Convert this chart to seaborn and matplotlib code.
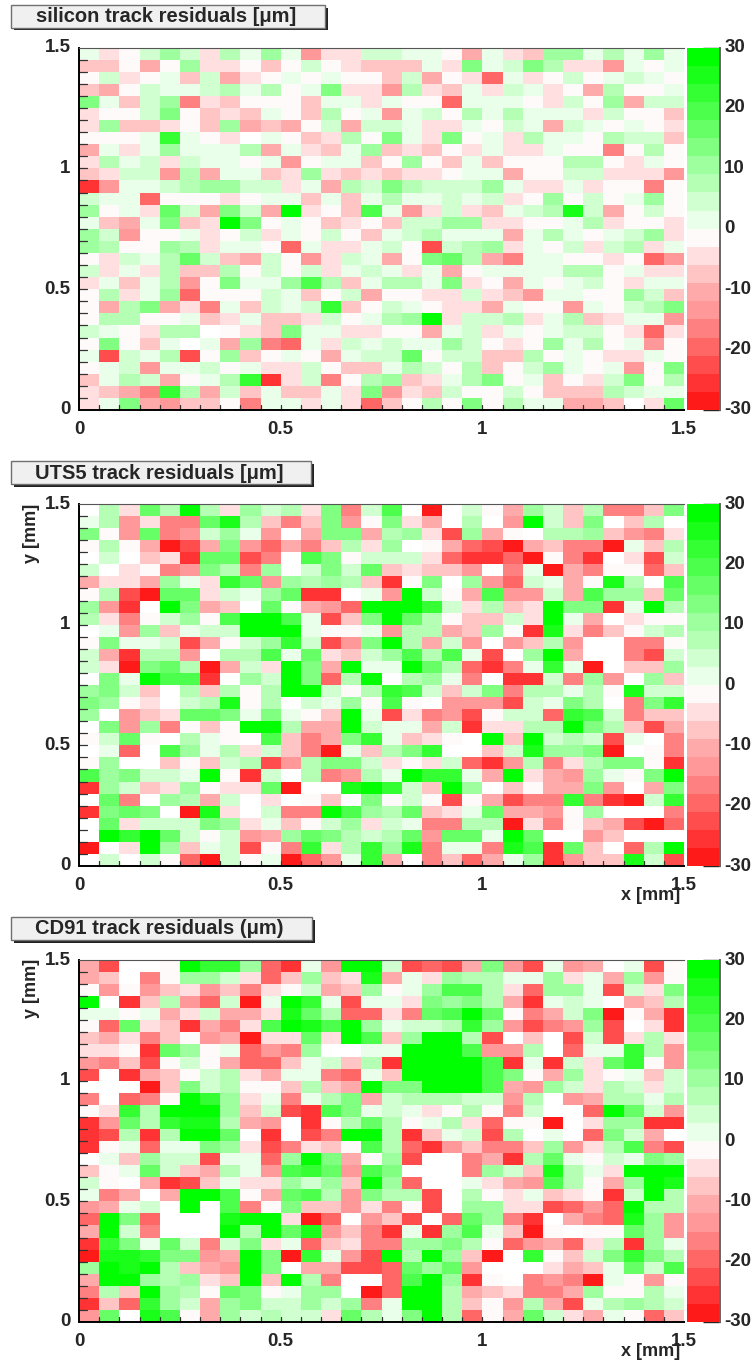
import numpy as np
import matplotlib
matplotlib.use("Agg")
import matplotlib.pyplot as plt
from matplotlib.colors import ListedColormap
from matplotlib.patches import Rectangle
from matplotlib.transforms import ScaledTranslation
import seaborn as sns

# cells that ROOT leaves white (below the -30 limit)
W = -40

# values in um, top row is y = 1.5, first column is x = 0
silicon_rows = [
    [1,-4,-1,4,10,4,-4,7,1,10,1,-13,-4,-4,4,4,1,1,-1,-10,1,-4,-7,10,10,1,7,1,10,1],
    [-7,-7,-1,-10,-1,10,-4,-4,-1,-7,-1,4,-1,-4,-7,-7,-7,1,-4,13,1,4,13,7,-4,-4,-13,1,-1,1],
    [-1,4,-4,-1,1,-7,4,-10,-4,-1,1,-1,1,-1,-1,-7,4,-10,-1,-4,-19,1,-4,-1,4,-1,1,4,1,-1],
    [-7,-10,-1,4,1,1,4,7,1,7,-1,1,13,-4,-4,-13,7,-4,-7,1,-4,4,1,-4,-1,-10,7,-1,-1,1],
    [13,1,-7,4,10,-16,-4,-7,-1,-1,-1,-7,1,1,-4,1,-1,-1,-19,1,1,1,-1,-4,4,-1,10,-10,4,4],
    [-4,-1,-1,4,13,-1,-7,-4,-7,1,-1,-7,7,-1,1,-13,1,4,-1,7,1,7,1,1,1,-4,4,-1,-1,-7],
    [-4,10,-7,-7,-4,-1,-7,10,-10,-7,-10,-1,4,-10,4,4,1,-4,-4,1,-1,4,1,-10,4,1,-1,1,-1,-4],
    [-1,-1,-1,1,22,1,-1,-4,W,1,-1,-7,-4,7,-1,13,1,-4,13,-1,1,-4,7,1,1,-1,7,4,4,-7],
    [-10,1,-4,1,10,1,1,1,7,-10,1,-4,-7,1,10,-7,-4,-7,-1,-4,1,-4,-4,1,-1,-1,-16,-1,7,-1],
    [-4,7,1,4,-4,4,1,1,-1,1,-13,-1,1,1,-7,-1,10,-1,-7,1,-7,-1,-1,-1,7,7,-1,-4,1,-1],
    [-7,-4,4,4,-13,7,-10,1,1,-7,-4,10,-4,-7,-4,-7,-4,-4,-1,1,1,-10,-1,-1,4,4,-4,-4,-4,-13],
    [-25,-13,1,1,4,7,10,10,4,4,-4,1,-10,7,4,13,7,4,4,4,10,1,-4,-4,1,-4,-1,-1,-16,-1],
    [4,1,1,-19,-1,-1,-1,-4,-1,1,1,-7,1,-7,1,7,1,1,4,1,4,-4,-1,10,-1,4,-1,1,10,-1],
    [10,-1,1,-4,16,4,-10,13,4,-10,28,-4,-1,-7,19,1,-13,-4,4,-4,-7,1,4,7,25,4,-10,-1,4,-1],
    [1,-7,-10,1,13,-7,-4,28,13,-1,1,-1,-7,-4,-1,-7,4,4,10,10,-4,-4,-1,-1,1,7,-4,-1,-1,-4],
    [10,4,-13,-1,-1,1,-4,-1,4,-4,1,-1,4,-1,-7,1,4,7,1,1,1,-10,1,7,1,-1,1,4,10,-4],
    [10,7,-1,-1,10,7,-4,1,1,-1,-19,1,-4,-4,1,4,-1,-22,4,7,10,-4,1,-1,4,-4,4,7,-4,1],
    [-1,-4,4,1,7,16,4,-7,-10,4,-1,-13,-4,4,1,-10,-1,13,16,7,-10,-16,1,1,-1,-1,-4,-1,-19,-13],
    [4,-4,1,-4,7,-7,-7,7,-1,4,-1,4,-4,1,4,1,-4,1,-10,-1,1,1,1,1,7,7,-1,1,-4,-4],
    [-4,1,-7,1,7,-13,-1,13,1,1,10,19,7,-7,1,7,7,1,13,-4,-1,-10,1,-1,1,4,-1,-4,1,1],
    [-1,7,-4,1,10,-19,-1,-1,-1,4,1,-7,-1,4,-10,-1,-1,-4,-4,4,-4,-7,-13,1,1,-1,-1,10,4,-7],
    [-1,-10,7,13,-10,-4,-16,1,-7,4,1,4,22,-7,-1,4,1,-1,-4,-4,-10,1,-1,-1,-13,1,-1,4,7,13],
    [-1,7,7,-1,-1,1,-7,-4,1,-7,-7,-4,4,-1,1,7,10,28,-4,4,4,7,-4,1,7,-7,-4,1,1,-13],
    [4,1,-1,-4,7,7,W,-1,-4,-7,13,1,1,-4,-4,-1,-1,-10,1,4,-4,1,-1,1,4,4,-1,-4,-19,-4],
    [-1,13,-1,-7,1,W,1,-10,10,-16,-19,1,-4,4,1,4,1,1,10,4,-1,-4,-1,10,1,7,-1,1,-13,-1],
    [1,-22,4,1,7,-22,-1,10,-7,-1,1,-1,-10,1,4,4,16,-1,4,4,-7,-7,7,-1,1,-1,-4,-4,1,-1],
    [-1,1,4,-13,1,1,4,-1,1,-4,-4,4,-1,-7,-7,1,7,4,-1,7,-7,-1,4,10,1,-1,1,-13,-1,13],
    [-7,1,7,4,-10,-1,1,7,22,-25,-4,4,-16,-1,7,10,-7,-4,1,7,13,-1,1,-7,-1,-4,4,13,-1,7],
    [-4,-7,-10,-16,22,7,-10,4,-7,1,-7,-7,1,-4,13,-13,-4,-7,4,-1,-1,4,-1,-7,-7,-7,7,4,1,1],
    [-4,1,13,-10,-13,-7,-7,-1,-16,1,1,-4,1,-4,-19,-7,-1,7,-1,13,-1,7,1,1,-10,-10,-7,W,-4,16],
]

uts5_rows = [
    [W,7,-4,16,7,28,7,-4,10,4,7,-4,13,-16,4,19,W,-28,W,4,-1,-10,10,4,-7,7,-16,-16,-7,13],
    [1,7,-13,-4,-16,-16,16,25,7,-7,-16,-7,13,-13,-1,13,-4,-10,W,7,W,-13,28,4,-7,13,W,-7,7,W],
    [13,-1,-13,16,-16,-13,4,10,1,-13,W,-10,13,13,-10,7,10,-4,-22,10,-10,-1,W,7,7,10,-7,-13,-16,-4],
    [-1,7,-1,-10,-28,-22,-10,13,-13,-19,-10,-16,-7,7,-4,10,W,-1,-10,-19,-22,-28,-10,-7,-16,-16,-28,1,-7,7],
    [W,4,W,-7,-4,-25,16,16,-22,-16,W,19,13,-1,4,4,4,-4,-19,-25,-25,-19,-28,-1,-16,-25,W,-4,-22,4],
    [4,W,-4,-1,-16,-13,13,7,-16,10,W,4,13,4,16,-7,-4,-7,-7,-13,W,-16,1,-28,-10,-16,-1,-1,-19,-7],
    [-10,-4,-4,-10,10,1,-4,22,16,-13,10,7,10,7,-7,-25,-1,13,W,10,-13,-19,4,1,-10,-1,25,7,W,19],
    [-1,7,-22,-28,16,16,-4,4,1,10,16,-25,-25,W,1,-13,28,4,-1,-10,19,-13,-13,4,-10,19,10,10,-7,16],
    [10,-13,-25,W,28,13,-10,-7,W,16,-1,-10,-13,-19,28,28,28,22,4,-4,7,-7,-4,28,13,13,-25,1,28,7],
    [7,-4,-16,-1,4,10,-1,19,28,28,19,1,-22,-7,13,28,16,7,-1,-7,-7,4,-4,28,1,-10,W,-4,-1,-1],
    [W,1,-13,10,-7,1,4,4,28,28,28,1,-1,-1,1,-13,7,7,-10,-7,10,-1,-25,25,-4,-16,-7,-1,4,7],
    [-1,13,1,1,4,-22,-10,-1,4,10,22,4,-22,-13,13,28,7,-10,4,-13,W,-13,-7,7,-13,W,W,-16,-16,-1],
    [4,-10,-25,7,7,-13,W,7,7,19,1,16,-4,-7,4,10,19,7,19,1,-22,W,10,28,-10,W,W,-16,-22,4],
    [4,-4,-28,13,16,7,-28,-10,4,-4,28,13,-10,28,1,1,28,16,7,-19,-25,-16,1,22,1,-28,W,-7,-7,10],
    [W,13,1,28,19,19,-25,W,10,4,28,13,-19,7,28,W,7,10,1,-16,W,-25,-25,4,-16,10,-13,W,10,-7],
    [10,13,4,-7,W,7,-7,7,-1,7,28,28,4,-1,7,22,19,4,-7,4,13,-16,7,7,1,7,-1,25,4,4],
    [13,10,-1,-4,W,4,7,25,-1,7,W,4,1,10,-1,19,-1,W,-13,-13,-13,-22,4,1,13,7,W,-16,13,22],
    [10,W,-13,-7,-4,16,16,13,1,13,1,-1,-7,28,1,-22,-4,-16,-13,-22,-1,4,4,-19,22,19,4,-16,-7,-7],
    [W,13,-13,10,-16,-1,-7,-1,28,28,7,-10,-10,28,4,1,1,-10,4,-25,-4,-4,7,7,28,13,7,-7,-22,-10],
    [-1,4,16,-1,W,7,1,-1,W,19,-7,-16,-10,13,22,1,-7,-4,-1,W,28,-7,28,4,7,4,-22,1,W,-16],
    [W,1,-19,W,19,10,1,7,-4,4,-7,-16,-28,1,-7,7,13,22,W,W,-7,4,25,10,10,13,-28,W,-1,-16],
    [-1,10,W,W,-7,-1,-7,4,7,-22,-13,7,13,13,4,-4,-1,-4,4,-19,-25,-13,7,-16,-4,7,13,13,-1,-25],
    [19,10,13,4,4,1,28,-1,-25,4,W,7,-16,-13,7,1,28,22,22,1,-10,28,-4,-10,-13,10,1,-1,13,28],
    [-25,10,4,-7,-4,10,-1,-4,-4,16,-28,W,W,25,28,22,4,-7,28,10,W,-7,-1,-10,-10,13,-13,W,-10,13],
    [W,16,-16,W,10,7,-10,4,W,-4,W,-1,-7,W,13,-1,4,-1,-22,-1,-10,-22,-16,-16,22,-16,-25,-28,4,22],
    [-25,13,16,13,W,-28,25,-4,W,4,-16,-16,28,19,10,7,16,-7,-4,1,16,-10,-10,-13,-1,10,W,W,W,-16],
    [W,16,-4,4,4,4,13,10,-4,1,-7,-1,4,10,-4,4,1,-16,-16,7,7,-28,-4,-16,-1,-7,-10,-22,-28,-19],
    [W,28,22,28,16,4,-1,4,-13,-10,10,16,13,7,4,7,16,-13,16,16,1,28,16,W,W,-13,-7,W,W,W],
    [-28,W,-4,28,10,-7,1,4,-22,-1,-16,22,-4,7,22,10,25,-16,1,1,-16,25,19,-25,16,-7,W,-19,7,28],
    [W,4,W,4,-1,-19,-28,4,-1,1,-28,-19,-13,1,22,-10,W,-16,-7,-19,-10,1,10,-25,-13,-7,-7,25,4,-22],
]

cd91_rows = [
    [-10,-22,W,W,-1,28,22,22,10,-19,-25,1,-13,28,28,4,-22,-19,-22,-10,13,-13,-22,1,-13,-10,W,1,-22,-1],
    [-10,-7,W,-16,-1,10,10,4,-4,-19,-7,10,-7,-4,25,-10,1,-4,10,7,7,1,1,10,-4,1,-10,10,-13,-1],
    [-1,-13,-1,-13,-7,-4,-13,-7,-16,-4,-1,4,-10,-7,10,-1,1,10,19,19,7,-4,-19,10,10,1,-22,4,-4,13],
    [28,W,-25,-7,7,-13,-19,4,-28,1,28,22,1,-22,1,1,-4,13,10,13,7,-10,-25,1,4,1,W,-10,-7,7],
    [1,1,-1,1,-10,-4,4,-10,-10,-4,25,16,7,-19,-19,-4,-16,16,19,28,16,-1,-16,-10,4,13,-28,-1,-10,-25],
    [-1,-19,16,-4,-7,-25,-10,-16,-4,19,28,25,19,28,10,1,4,4,7,22,10,-13,-22,-16,-13,10,-22,W,-4,-25],
    [-7,-10,-4,-16,-7,-1,-13,-10,-28,-4,-4,16,-4,28,19,-7,10,28,28,7,-22,W,-7,W,-22,4,-22,-4,7,-4],
    [-4,-4,-1,-25,16,10,-1,1,-19,-13,-16,10,W,W,1,1,28,28,28,19,-13,-13,7,W,-19,1,1,22,7,-13],
    [-13,-16,-7,-22,-1,4,-1,-10,-19,-19,-7,1,4,-7,7,-25,28,28,28,28,19,-25,1,-25,4,-4,16,22,-1,-13],
    [-22,W,-25,-10,-7,-1,4,7,-4,-10,1,1,-16,-19,1,-7,28,28,28,28,19,13,-1,-10,10,-4,-1,1,-7,4],
    [W,W,W,-28,-7,13,4,7,-1,-1,-7,7,-7,-10,28,13,13,28,28,28,19,-10,-13,10,4,-4,7,4,-4,4],
    [-16,W,-19,-16,-1,28,22,10,-4,1,-16,1,7,13,-10,4,7,7,7,4,4,-13,7,W,-13,-10,7,7,1,7],
    [-1,-4,22,7,28,28,28,10,-7,4,-22,-25,19,13,1,4,1,-4,-1,7,-1,-16,4,W,W,-19,28,16,4,-13],
    [-25,-13,16,7,22,25,25,7,-10,-13,W,-25,-1,7,16,7,-1,1,7,-4,-19,-1,-1,-28,W,-4,10,10,-25,-25],
    [-25,-22,7,-25,7,28,28,16,W,-25,W,-22,-16,28,28,7,-25,-7,1,4,-22,7,W,1,W,-19,13,4,-10,W],
    [-25,-1,1,-19,1,1,13,10,-4,-22,-16,-4,-7,-1,19,7,-19,-25,-13,-7,-16,-16,-7,10,-13,-4,7,19,-16,-22],
    [W,1,-7,10,4,4,-22,1,1,-19,10,28,13,-10,-1,10,-22,W,W,-16,-10,-25,7,16,1,-1,4,1,13,10],
    [-7,-1,1,16,4,-7,-10,7,1,-13,19,22,16,-13,19,13,W,W,W,-16,10,4,-7,25,7,1,-4,28,28,28],
    [4,-1,W,-10,-25,-22,-7,1,-4,-4,10,4,10,-7,28,10,-19,W,W,1,-4,-10,-13,19,7,-1,-10,10,28,25],
    [1,-16,-10,W,-10,28,28,19,-1,-10,16,19,7,-13,13,7,7,-22,W,7,-1,-4,1,-7,-4,-1,-25,4,28,7],
    [-13,-10,1,4,W,28,W,19,-16,-1,13,-7,-7,-13,-4,-16,-1,-22,W,10,10,-4,-4,-22,-19,-13,-19,28,7,7],
    [-19,28,13,-19,W,W,W,25,28,28,-4,-28,-19,W,-13,-7,-22,W,-19,16,10,-16,-25,W,-10,-16,-19,25,10,-13],
    [-10,28,4,-16,W,W,W,28,7,28,16,25,-13,-7,-16,-25,1,-25,10,19,1,-7,-28,-1,W,-1,-1,16,10,-13],
    [-25,22,13,1,16,4,-16,4,13,-4,1,-19,-7,-4,-16,-16,10,10,13,7,-1,-19,-13,-10,-19,-4,7,-25,10,1],
    [-28,25,25,22,13,13,-13,-10,28,13,-28,22,1,-13,-22,28,7,28,10,-7,-28,W,22,-1,-7,4,13,22,13,7],
    [10,28,25,28,7,-7,-10,-13,28,13,W,-10,-10,-22,-22,-19,16,10,16,-13,W,W,W,-4,-10,-7,1,16,4,19],
    [-10,28,28,10,7,10,-4,-7,28,-7,28,7,-16,W,W,-19,19,28,10,-25,-1,W,-16,-13,-16,-28,1,-1,-13,-1],
    [-16,7,-7,28,10,7,-1,16,13,-1,1,10,10,W,-28,-19,28,28,7,-10,-7,-4,-16,-16,-10,10,-1,-1,7,1],
    [-25,-7,-19,22,10,4,-10,10,13,4,4,10,4,10,-16,1,28,28,7,-7,-1,-13,7,-10,-22,1,7,10,7,4],
    [-13,16,W,25,19,-1,-10,10,4,7,4,4,-4,16,7,1,13,28,7,-19,-1,-10,16,4,-4,-10,1,-1,-19,-7],
]

band_colors = [
    "#ff1a1a", "#ff3333", "#ff4d4d", "#ff6666", "#ff8080",
    "#ff9999", "#ffaaaa", "#ffc4c4", "#ffdfdf", "#fffafa",
    "#eaffea", "#d0ffd0", "#b5ffb5", "#9eff9e", "#80ff80",
    "#66ff66", "#4dff4d", "#33ff33", "#1aff1a", "#00ff00",
]
titles = ["silicon track residuals [\u03bcm]", "UTS5 track residuals [\u03bcm]", "CD91 track residuals (\u03bcm)"]
tick_values = [0, 0.5, 1, 1.5]
tick_labels = ["0", "0.5", "1", "1.5"]
long_x = [0, 0.2, 0.4, 0.5, 0.6, 0.8, 1.0, 1.2, 1.4, 1.5]
long_y = [0.1, 0.3, 0.5, 0.7, 0.9, 1.0, 1.1, 1.3, 1.5]
cbar_ticks = [-30, -20, -10, 0, 10, 20, 30]

W_PX, H_PX = 752, 1366
FONT = "Liberation Sans"


def px_rect(left, top, right, bottom):
    return [left / W_PX, 1 - bottom / H_PX, (right - left) / W_PX, (bottom - top) / H_PX]


def title_box(fig, text, left, top, right, bottom):
    # ROOT style title pad with a dark drop shadow
    x0, y0, w, h = px_rect(left, top, right, bottom)
    sx, sy = 3 / W_PX, 2.5 / H_PX
    fig.add_artist(Rectangle((x0 + sx, y0 - sy), w, h, transform=fig.transFigure,
                             facecolor="#222222", edgecolor="none"))
    fig.add_artist(Rectangle((x0, y0), w, h, transform=fig.transFigure,
                             facecolor="#f0f0f0", edgecolor="#707070", linewidth=1))
    fig.text(x0 + w / 2 - 2 / W_PX, y0 + h / 2 - 0.5 / H_PX, text, ha="center", va="center",
             fontsize=14.5, fontweight="bold", family=FONT)


def draw_panel(fig, rows, top, bottom):
    ax = fig.add_axes(px_rect(79, top, 684, bottom))
    cax = fig.add_axes(px_rect(687, top, 720, bottom))
    cmap = ListedColormap(band_colors)
    cmap.set_under("white")
    sns.heatmap(np.array(rows), ax=ax, cbar_ax=cax, cmap=cmap, vmin=-30, vmax=30,
                xticklabels=False, yticklabels=False, cbar_kws={"ticks": cbar_ticks})

    # heatmap cells are 0.05 mm wide, row 0 is the top of the plot
    ax.set_xticks([v / 0.05 for v in tick_values], tick_labels)
    ax.set_yticks([(1.5 - v) / 0.05 for v in tick_values], tick_labels, rotation=0)
    ax.set_xticks([v / 0.05 for v in long_x], minor=True)
    ax.set_yticks([(1.5 - v) / 0.05 for v in long_y], minor=True)
    ax.tick_params(axis="x", which="major", direction="in", length=8, width=1, pad=8, labelsize=13.5)
    ax.tick_params(axis="y", which="major", direction="in", length=12, width=1, pad=6, labelsize=13.5)
    ax.tick_params(axis="x", which="minor", direction="in", length=8, width=1)
    ax.tick_params(axis="y", which="minor", direction="in", length=12, width=1)
    # short ticks on every cell edge
    for i in range(1, 30):
        ax.plot([i, i], [30, 29.55], color="#333333", lw=0.9, clip_on=False)
        ax.plot([0, 0.4], [i, i], color="#333333", lw=0.9, clip_on=False)
    ax.set_xlim(0, 30)
    ax.set_ylim(30, 0)
    lift = ScaledTranslation(0, 2 / 100, fig.dpi_scale_trans)
    for lab in ax.get_xticklabels():
        lab.set_fontweight("bold")
    for lab in ax.get_yticklabels():
        lab.set_fontweight("bold")
        lab.set_transform(lab.get_transform() + lift)

    for side, color, width in [("left", "black", 1.4), ("bottom", "black", 1.4), ("top", "#555555", 0.8)]:
        ax.spines[side].set_visible(True)
        ax.spines[side].set_color(color)
        ax.spines[side].set_linewidth(width)
    ax.spines["right"].set_visible(False)

    cbar = ax.collections[0].colorbar
    cbar.outline.set_visible(False)
    cax.spines["right"].set_visible(True)
    cax.spines["right"].set_color("#666666")
    cax.spines["right"].set_linewidth(1.4)
    cax.tick_params(axis="y", direction="in", length=12, width=1, pad=3, labelsize=13.5, right=True, left=False)
    for lab in cax.get_yticklabels():
        lab.set_fontweight("bold")
        lab.set_transform(lab.get_transform() + lift)
    return ax


def main():
    sns.set_theme(style="white")
    plt.rcParams["font.family"] = [FONT, "DejaVu Sans"]
    plt.rcParams["axes.unicode_minus"] = False
    fig = plt.figure(figsize=(W_PX / 100, H_PX / 100), dpi=100)

    draw_panel(fig, silicon_rows, 47.5, 410)
    draw_panel(fig, uts5_rows, 504, 866)
    draw_panel(fig, cd91_rows, 960, 1322)

    title_box(fig, titles[0], 11, 5, 325, 27.5)
    title_box(fig, titles[1], 11, 461, 311, 484)
    title_box(fig, titles[2], 11, 917, 312, 940)

    for cy in [533, 988]:
        fig.text(32 / W_PX, 1 - cy / H_PX, "y [mm]", rotation=90, ha="center", va="center",
                 fontsize=13, fontweight="bold")
    for cy in [896, 1352]:
        fig.text(651 / W_PX, 1 - cy / H_PX, "x [mm]", ha="center", va="center",
                 fontsize=13, fontweight="bold")

    fig.savefig("out.png", dpi=100)


if __name__ == "__main__":
    main()
